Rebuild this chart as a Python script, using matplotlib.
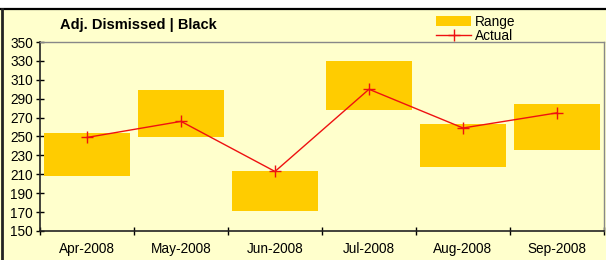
import matplotlib
matplotlib.use("Agg")
import matplotlib.pyplot as plt
from matplotlib.patches import Rectangle
from matplotlib.lines import Line2D
import numpy as np

plt.rcParams['font.family'] = ['Liberation Sans', 'DejaVu Sans']

months = ["Apr-2008", "May-2008", "Jun-2008", "Jul-2008", "Aug-2008", "Sep-2008"]
range_low = [208, 249, 171, 278, 218, 236]
range_high = [254, 299, 213, 330, 263, 284]
actual = [249, 266, 213, 300, 259, 275]
yticks = list(range(150, 351, 20))

bg = "#FFFFCC"
fig = plt.figure(figsize=(6.06, 2.60), dpi=100)
fig.patch.set_facecolor(bg)

# white strip at top and black border
fig.add_artist(Rectangle((0, 1 - 7.5/260), 1, 7.5/260, transform=fig.transFigure,
                         facecolor="white", edgecolor="none", zorder=0))
fig.add_artist(Line2D([0, 1], [1 - 8.5/260, 1 - 8.5/260], transform=fig.transFigure,
                      color="black", lw=1.6))
fig.add_artist(Line2D([1.5/606, 1.5/606], [0, 1 - 8.5/260], transform=fig.transFigure,
                      color="#222222", lw=2))

ax = fig.add_axes([40/606, 29/260, 564/606, 189/260])
ax.set_facecolor(bg)
x = np.arange(len(months))
heights = [h - l for h, l in zip(range_high, range_low)]
bars = ax.bar(x, heights, bottom=range_low, width=0.91, color="#FFCC00", label="Range", zorder=2)
line, = ax.plot(x, actual, color="#EE1111", lw=1, marker="+", markersize=9, markeredgewidth=1,
                label="Actual", zorder=3)

ax.set_xlim(-0.5, len(months) - 0.5)
ax.set_ylim(150, 350)
ax.set_yticks(yticks)
ax.set_xticks(x)
ax.set_xticklabels(months, fontsize=9.8)
ax.set_xticks(np.arange(-0.5, len(months)), minor=True)
ax.tick_params(axis="x", which="major", length=0, pad=8)
ax.tick_params(axis="x", which="minor", length=6, direction="inout", width=1)
ax.tick_params(axis="y", which="major", length=6, direction="inout", width=1, labelsize=9.8, pad=2)

for s in ["top", "right"]:
    ax.spines[s].set_color("#888888")
    ax.spines[s].set_linewidth(1)
for s in ["left", "bottom"]:
    ax.spines[s].set_color("#222222")
    ax.spines[s].set_linewidth(1.2)

fig.text(60/606, 1 - 25/260, "Adj. Dismissed | Black", fontsize=10.5, fontweight="bold",
         va="center", ha="left")

leg = fig.legend([bars, line], ["Range", "Actual"], loc="upper left",
                 bbox_to_anchor=(429/606, 1 - 8/260), frameon=False,
                 fontsize=9.8, handlelength=2.6, handleheight=0.8, labelspacing=0.0,
                 borderpad=0, handletextpad=0.3)

fig.savefig("out.png", dpi=100, facecolor=fig.get_facecolor())
